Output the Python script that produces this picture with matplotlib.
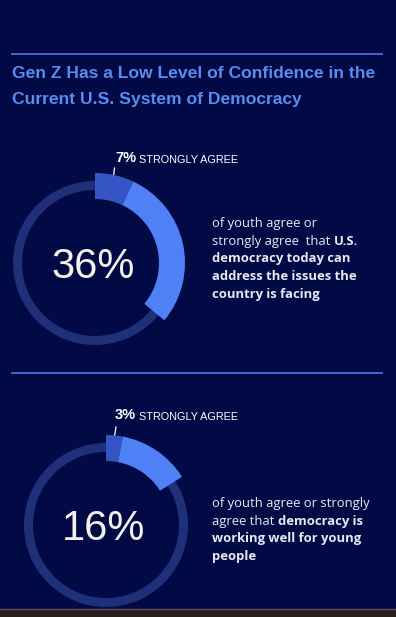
import matplotlib
matplotlib.use('agg')
import matplotlib.pyplot as plt

# data
title_lines = ["Gen Z Has a Low Level of Confidence in the",
               "Current U.S. System of Democracy"]
totals = [36, 16]
strongly = [7, 3]
notes = [
    [[("of youth agree or", False)],
     [("strongly agree  that ", False), ("U.S.", True)],
     [("democracy today can", True)],
     [("address the issues the", True)],
     [("country is facing", True)]],
    [[("of youth agree or strongly", False)],
     [("agree that ", False), ("democracy is", True)],
     [("working well for young", True)],
     [("people", True)]],
]

BG = '#010a45'
TRACK = '#1f2f78'
DARK = '#3555c4'
BRIGHT = '#4f80f5'
TITLE_C = '#5a8bf0'
W, H = 396, 617

fig = plt.figure(figsize=(W / 100, H / 100), dpi=100, facecolor=BG)
ax = fig.add_axes([0, 0, 1, 1])
ax.set_xlim(0, W)
ax.set_ylim(H, 0)
ax.axis('off')
ax.set_facecolor(BG)

body_font = 'Open Sans'
head_font = 'Liberation Sans'

# rules
ax.plot([12, 382], [54, 54], color='#4d78e0', lw=1.2)
ax.plot([12, 382], [373, 373], color='#4d78e0', lw=1.2)
# bottom strip
ax.fill_between([0, W], 609, H, color='#2a1b1d', zorder=5)
ax.plot([0, W], [609, 609], color='#5a5058', lw=1, zorder=6)

for i, line in enumerate(title_lines):
    ax.text(12, 78 + i * 26, line, color=TITLE_C, fontsize=12.6,
            fontweight='bold', family=head_font, va='baseline', ha='left')

centers = [(95, 263), (106, 525)]
label_y = [162, 419]
note_y = [227, 507]
tick = [((112, 189), (114.5, 168)), ((113, 445), (116, 427))]

for k in range(2):
    cx, cy = centers[k]
    half = 110
    pax = fig.add_axes([(cx - half) / W, (H - cy - half) / H, 2 * half / W, 2 * half / H])
    pax.pie([1], radius=82, colors=[TRACK], wedgeprops=dict(width=9, linewidth=0))
    rest = 100 - totals[k]
    pax.pie([strongly[k], totals[k] - strongly[k], rest], radius=90,
            colors=[DARK, BRIGHT, 'none'], startangle=90, counterclock=False,
            wedgeprops=dict(width=26, linewidth=0))
    pax.set_xlim(-half, half)
    pax.set_ylim(-half, half)
    pax.set_aspect('equal')
    pax.axis('off')

    ax.text(cx - 2, cy + 15, f"{totals[k]}%", color='#f6f0ea', fontsize=30,
            family=head_font, fontweight='normal', ha='center', va='baseline', zorder=10)

    (x0, y0), (x1, y1) = tick[k]
    ax.plot([x0, x1], [y0, y1], color='white', lw=0.9, zorder=10)

    t = ax.text(115, label_y[k], f"{strongly[k]}%", color='white', fontsize=10.5,
                fontweight='bold', family=head_font, va='baseline', ha='left', zorder=10)
    ax.annotate(" STRONGLY AGREE", xy=(1, 0), xycoords=t, color='white', fontsize=7.8,
                family=head_font, va='bottom', ha='left', zorder=10)

    for j, segs in enumerate(notes[k]):
        prev = None
        for s, bold in segs:
            kw = dict(color='#e9e9f2', fontsize=9.4, family=body_font,
                      fontweight='bold' if bold else 'normal', zorder=10)
            if prev is None:
                prev = ax.text(212, note_y[k] + j * 17.7, s, va='baseline', ha='left', **kw)
            else:
                prev = ax.annotate(s, xy=(1, 0), xycoords=prev, va='bottom', ha='left', **kw)

fig.savefig('out.png', dpi=100, facecolor=BG)
